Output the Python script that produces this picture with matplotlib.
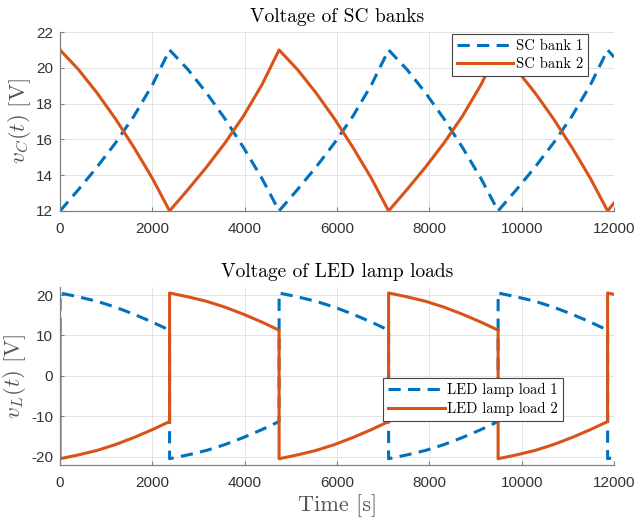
import matplotlib
matplotlib.use("Agg")
import matplotlib.pyplot as plt

plt.rcParams["mathtext.fontset"] = "cm"
plt.rcParams["axes.unicode_minus"] = False

# SC bank voltages (top panel)
t_sc = [0, 400, 800, 1200, 1600, 2000, 2372,
        2772, 3172, 3572, 3972, 4372, 4744,
        5144, 5544, 5944, 6344, 6744, 7116,
        7516, 7916, 8316, 8716, 9116, 9488,
        9888, 10288, 10688, 11088, 11488, 11860,
        12000]
sc_bank_1 = [12.0, 13.2, 14.45, 15.8, 17.3, 19.05, 21.0,
             19.9, 18.6, 17.15, 15.55, 13.82, 12.0,
             13.2, 14.45, 15.8, 17.3, 19.05, 21.0,
             19.9, 18.6, 17.15, 15.55, 13.82, 12.0,
             13.2, 14.45, 15.8, 17.3, 19.05, 21.0,
             20.6]
sc_bank_2 = [21.0, 19.9, 18.6, 17.15, 15.55, 13.82, 12.0,
             13.2, 14.45, 15.8, 17.3, 19.05, 21.0,
             19.9, 18.6, 17.15, 15.55, 13.82, 12.0,
             13.2, 14.45, 15.8, 17.3, 19.05, 21.0,
             19.9, 18.6, 17.15, 15.55, 13.82, 12.0,
             12.45]

# LED lamp load voltages (bottom panel)
t_led = [0, 0, 400, 800, 1200, 1600, 2000, 2372,
         2372, 2772, 3172, 3572, 3972, 4372, 4744,
         4744, 5144, 5544, 5944, 6344, 6744, 7116,
         7116, 7516, 7916, 8316, 8716, 9116, 9488,
         9488, 9888, 10288, 10688, 11088, 11488, 11860,
         11860, 12000]
led_load_1 = [11.3, 20.5, 19.55, 18.45, 17.0, 15.25, 13.3, 11.3,
              -20.5, -19.55, -18.45, -17.0, -15.25, -13.3, -11.3,
              20.5, 19.55, 18.45, 17.0, 15.25, 13.3, 11.3,
              -20.5, -19.55, -18.45, -17.0, -15.25, -13.3, -11.3,
              20.5, 19.55, 18.45, 17.0, 15.25, 13.3, 11.3,
              -20.5, -20.15]
led_load_2 = [11.3, -20.5, -19.55, -18.45, -17.0, -15.25, -13.3, -11.3,
              20.5, 19.55, 18.45, 17.0, 15.25, 13.3, 11.3,
              -20.5, -19.55, -18.45, -17.0, -15.25, -13.3, -11.3,
              20.5, 19.55, 18.45, 17.0, 15.25, 13.3, 11.3,
              -20.5, -19.55, -18.45, -17.0, -15.25, -13.3, -11.3,
              20.5, 20.15]

BLUE = "#0072BD"
ORANGE = "#D95319"
AX_GRAY = "#808080"
TXT = "#333333"
LABEL_GRAY = "#555555"
DASH = (0, (4, 2.4))


def style_axes(ax):
    for side in ("top", "right"):
        ax.spines[side].set_visible(False)
    for side in ("left", "bottom"):
        ax.spines[side].set_color(AX_GRAY)
        ax.spines[side].set_linewidth(0.9)
    ax.tick_params(direction="in", length=3, width=0.8, color=AX_GRAY,
                   labelcolor=TXT, labelsize=11)
    ax.tick_params(axis="x", pad=8)
    ax.tick_params(axis="y", pad=5)
    for lab in ax.get_xticklabels() + ax.get_yticklabels():
        lab.set_fontfamily("Liberation Sans")
    ax.grid(True, color="#e3e3e3", linewidth=0.7)
    ax.set_axisbelow(True)
    ax.set_xlim(0, 12000)
    ax.set_xticks(range(0, 12001, 2000))


def style_legend(leg):
    leg.get_frame().set_edgecolor("#444444")
    leg.get_frame().set_linewidth(0.8)


leg_kw = dict(loc="upper right", prop={"family": "cmr10", "size": 10.5},
              handlelength=3.9, handletextpad=0.15, borderpad=0.35,
              labelspacing=0.3, borderaxespad=0, fancybox=False,
              framealpha=1)

fig = plt.figure(figsize=(6.39, 5.17), dpi=100)
ax1 = fig.add_axes([0.094, 0.592, 0.867, 0.346])
ax2 = fig.add_axes([0.094, 0.101, 0.867, 0.344])

ax1.plot(t_sc, sc_bank_1, color=BLUE, lw=2.2, ls=DASH, label="SC bank 1")
ax1.plot(t_sc, sc_bank_2, color=ORANGE, lw=2.2, label="SC bank 2")
ax1.set_ylim(12, 22)
ax1.set_yticks(range(12, 23, 2))
style_axes(ax1)
ax1.set_title("Voltage of SC banks", family="cmr10", fontsize=14, pad=7)
ax1.set_ylabel(r"$v_C(t)\ [\mathrm{V}]$", fontsize=16.5, color=LABEL_GRAY,
               labelpad=2)
style_legend(ax1.legend(bbox_to_anchor=(0.953, 0.99), **leg_kw))

ax2.plot(t_led, led_load_1, color=BLUE, lw=2.2, ls=DASH, label="LED lamp load 1")
ax2.plot(t_led, led_load_2, color=ORANGE, lw=2.2, label="LED lamp load 2")
ax2.set_ylim(-22, 22)
ax2.set_yticks([-20, -10, 0, 10, 20])
style_axes(ax2)
ax2.set_title("Voltage of LED lamp loads", family="cmr10", fontsize=14, pad=7)
ax2.set_ylabel(r"$v_L(t)\ [\mathrm{V}]$", fontsize=16.5, color=LABEL_GRAY,
               labelpad=2)
ax2.set_xlabel("Time [s]", family="cmr10", fontsize=16, color=LABEL_GRAY,
               labelpad=3)
style_legend(ax2.legend(bbox_to_anchor=(0.908, 0.489), **leg_kw))

fig.savefig("out.png", dpi=100)
